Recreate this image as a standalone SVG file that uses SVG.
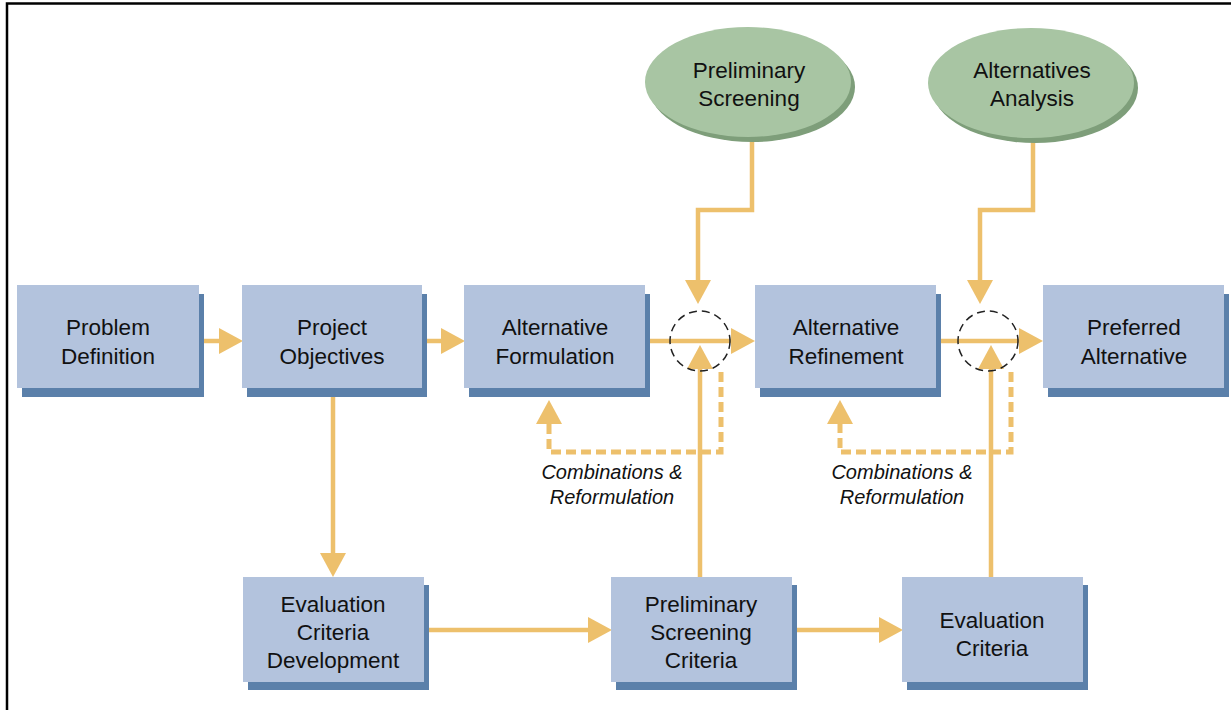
<svg xmlns="http://www.w3.org/2000/svg" width="1231" height="710" viewBox="0 0 1231 710">
<defs>
<style>
.box{fill:#b3c3dd}
.sh{fill:#5b80aa}
.ell{fill:#a8c5a3}
.esh{fill:#7e9e7a}
.t{font-family:"Liberation Sans",Arial,sans-serif;font-size:22.5px;fill:#111;text-anchor:middle}
.lab{font-family:"Liberation Sans",Arial,sans-serif;font-size:20px;font-style:italic;fill:#111;text-anchor:middle}
.c{fill:none;stroke:#edc06c;stroke-width:4.5}
.d{fill:none;stroke:#edc06c;stroke-width:5;stroke-dasharray:10 5}
.circ{fill:none;stroke:#222;stroke-width:1.5;stroke-dasharray:8 5}
</style>
<marker id="ah" markerUnits="userSpaceOnUse" markerWidth="24" markerHeight="26" viewBox="0 0 24 26" refX="0" refY="13" orient="auto">
<path d="M0,0 L24,13 L0,26 Z" fill="#edc06c"/>
</marker>
</defs>
<rect width="1231" height="710" fill="#fff"/>
<path d="M7,710 V3.5 H1231" fill="none" stroke="#000" stroke-width="2.5"/>

<g id="connectors">
<path class="c" d="M199,341 H219" marker-end="url(#ah)"/>
<path class="c" d="M422,341 H441" marker-end="url(#ah)"/>
<path class="c" d="M333,388 V553" marker-end="url(#ah)"/>
<path class="c" d="M424,630 H588" marker-end="url(#ah)"/>
<path class="c" d="M792,630 H879" marker-end="url(#ah)"/>
<path class="c" d="M645,341 H731" marker-end="url(#ah)"/>
<path class="c" d="M936,341 H1019" marker-end="url(#ah)"/>
<path class="c" d="M752,140 V210 H698 V280" marker-end="url(#ah)"/>
<path class="c" d="M1033,142 V210 H980 V280" marker-end="url(#ah)"/>
<path class="c" d="M700,577 V369" marker-end="url(#ah)"/>
<path class="c" d="M991,577 V369" marker-end="url(#ah)"/>
<path class="d" d="M721,372 V452 H549 V424" marker-end="url(#ah)"/>
<path class="d" d="M1011,372 V452 H840 V424" marker-end="url(#ah)"/>
<circle class="circ" cx="700" cy="341" r="30"/>
<circle class="circ" cx="988" cy="341" r="30"/>
<text class="lab" x="612" y="479">Combinations &amp;</text>
<text class="lab" x="612" y="504">Reformulation</text>
<text class="lab" x="902" y="479">Combinations &amp;</text>
<text class="lab" x="902" y="504">Reformulation</text>
</g>

<g id="problem-definition">
<rect class="sh" x="22" y="294" width="182" height="103"/>
<rect class="box" x="17" y="285" width="182" height="103"/>
<text class="t" x="108" y="335">Problem</text>
<text class="t" x="108" y="364">Definition</text>
</g>
<g id="project-objectives">
<rect class="sh" x="247" y="294" width="180" height="103"/>
<rect class="box" x="242" y="285" width="180" height="103"/>
<text class="t" x="332" y="335">Project</text>
<text class="t" x="332" y="364">Objectives</text>
</g>
<g id="alternative-formulation">
<rect class="sh" x="469" y="294" width="181" height="103"/>
<rect class="box" x="464" y="285" width="181" height="103"/>
<text class="t" x="555" y="335">Alternative</text>
<text class="t" x="555" y="364">Formulation</text>
</g>
<g id="alternative-refinement">
<rect class="sh" x="760" y="294" width="181" height="103"/>
<rect class="box" x="755" y="285" width="181" height="103"/>
<text class="t" x="846" y="335">Alternative</text>
<text class="t" x="846" y="364">Refinement</text>
</g>
<g id="preferred-alternative">
<rect class="sh" x="1048" y="294" width="181" height="103"/>
<rect class="box" x="1043" y="285" width="181" height="103"/>
<text class="t" x="1134" y="335">Preferred</text>
<text class="t" x="1134" y="364">Alternative</text>
</g>
<g id="evaluation-criteria-development">
<rect class="sh" x="248" y="585" width="181" height="105"/>
<rect class="box" x="243" y="577" width="181" height="105"/>
<text class="t" x="333" y="612">Evaluation</text>
<text class="t" x="333" y="640">Criteria</text>
<text class="t" x="333" y="668">Development</text>
</g>
<g id="preliminary-screening-criteria">
<rect class="sh" x="616" y="585" width="181" height="105"/>
<rect class="box" x="611" y="577" width="181" height="105"/>
<text class="t" x="701" y="612">Preliminary</text>
<text class="t" x="701" y="640">Screening</text>
<text class="t" x="701" y="668">Criteria</text>
</g>
<g id="evaluation-criteria">
<rect class="sh" x="907" y="585" width="181" height="105"/>
<rect class="box" x="902" y="577" width="181" height="105"/>
<text class="t" x="992" y="628">Evaluation</text>
<text class="t" x="992" y="656">Criteria</text>
</g>
<g id="preliminary-screening">
<ellipse class="esh" cx="752" cy="87" rx="103" ry="55"/>
<ellipse class="ell" cx="748" cy="82" rx="103" ry="55"/>
<text class="t" x="749" y="78">Preliminary</text>
<text class="t" x="749" y="106">Screening</text>
</g>
<g id="alternatives-analysis">
<ellipse class="esh" cx="1035" cy="88" rx="103" ry="55"/>
<ellipse class="ell" cx="1031" cy="83" rx="103" ry="55"/>
<text class="t" x="1032" y="78">Alternatives</text>
<text class="t" x="1032" y="106">Analysis</text>
</g>
</svg>
